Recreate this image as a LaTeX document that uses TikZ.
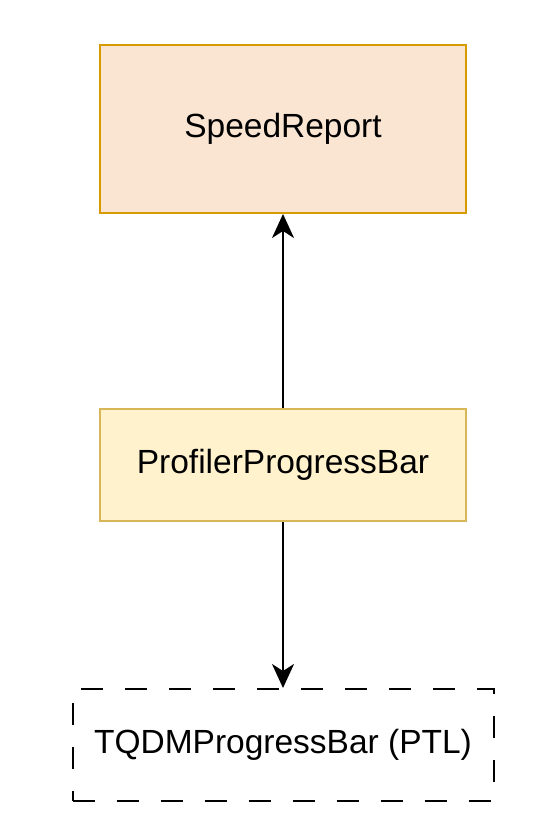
\documentclass[tikz,border=0pt]{standalone}
\usepackage{fontspec}
\setmainfont{Liberation Sans}
\usetikzlibrary{arrows.meta}
\definecolor{peachfill}{HTML}{FAE5D3}
\definecolor{peachline}{HTML}{D79B00}
\definecolor{yelfill}{HTML}{FFF2CC}
\definecolor{yelline}{HTML}{D6B656}
\tikzset{
  box/.style={draw, line width=2pt, minimum width=366pt, minimum height=112pt, inner sep=0pt, font=\fontsize{33.5}{40}\selectfont},
  conn/.style={line width=2pt, -{Stealth[length=24pt,width=22pt,inset=7pt]}}
}
\begin{document}
\begin{tikzpicture}[x=1pt,y=-1pt]
\useasboundingbox (0,0) rectangle (548,826);
\node[box, fill=peachfill, draw=peachline, minimum height=168pt] (sr) at (283,129) {SpeedReport};
\node[box, fill=yelfill, draw=yelline] (pp) at (283,465) {ProfilerProgressBar};
\node[box, draw=black, minimum width=421pt, dash pattern=on 22pt off 22pt] (tq) at (283,745) {TQDMProgressBar (PTL)};
\draw[conn] (pp.north) -- (sr.south);
\draw[conn] (pp.south) -- (tq.north);
\end{tikzpicture}
\end{document}
